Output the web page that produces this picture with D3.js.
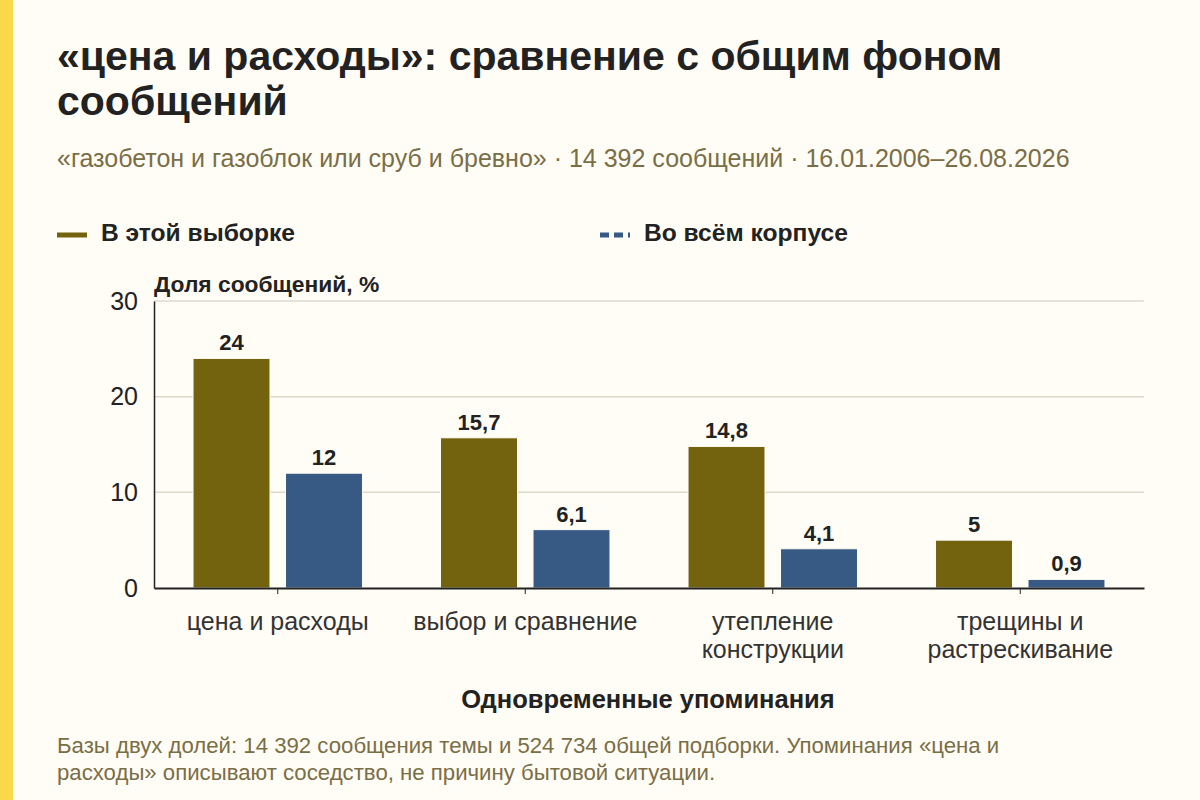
<!DOCTYPE html>
<meta charset="utf-8">
<script src="https://d3js.org/d3.v7.min.js"></script>
<style>
  body { margin: 0; background: #fffdf5; }
  text { font-family: "Liberation Sans", Arial, sans-serif; }
</style>
<div id="chart"></div>
<script>

// data
var categories = ["цена и расходы", "выбор и сравнение", "утепление конструкции", "трещины и растрескивание"];
var sampleShare = [24, 15.7, 14.8, 5];
var corpusShare = [12, 6.1, 4.1, 0.9];
var seriesNames = ["В этой выборке", "Во всём корпусе"];
var yTicks = [0, 10, 20, 30];

var colors = ["#73620e", "#365a84"];

var W = 1200, H = 800;
var margin = {top: 301, right: 56, bottom: 212, left: 154},
    width = W - margin.left - margin.right,
    height = H - margin.top - margin.bottom;

var svg = d3.select("#chart").append("svg")
    .attr("width", W)
    .attr("height", H);

svg.append("rect").attr("width", W).attr("height", H).attr("fill", "#fffdf5");
svg.append("rect").attr("width", 13).attr("height", H).attr("fill", "#f9d84a");

// title + subtitle
var title = svg.append("text")
    .attr("x", 57).attr("y", 70)
    .attr("font-size", 41).attr("font-weight", "bold").attr("fill", "#222");
title.append("tspan").attr("x", 57).text("«цена и расходы»: сравнение с общим фоном");
title.append("tspan").attr("x", 57).attr("dy", 45).text("сообщений");

svg.append("text")
    .attr("x", 57).attr("y", 167)
    .attr("font-size", 25).attr("fill", "#7a6e47")
    .text("«газобетон и газоблок или сруб и бревно» · 14 392 сообщений · 16.01.2006–26.08.2026");

// legend
var legendX = [57, 600];
seriesNames.forEach(function(name, i) {
  svg.append("line")
    .attr("x1", legendX[i]).attr("x2", legendX[i] + 30)
    .attr("y1", 235).attr("y2", 235)
    .attr("stroke", colors[i]).attr("stroke-width", 5)
    .attr("stroke-dasharray", i === 1 ? "9,5" : null);
  svg.append("text")
    .attr("x", legendX[i] + 44).attr("y", 241)
    .attr("font-size", 24.6).attr("font-weight", "bold").attr("fill", "#222")
    .text(name);
});

var g = svg.append("g")
    .attr("transform", "translate(" + margin.left + "," + margin.top + ")");

// scales
var x0 = d3.scaleBand().domain(categories).range([0, width]).padding(0);
var x1 = d3.scaleBand().domain([0, 1]).range([0, x0.bandwidth()])
    .paddingInner(0.168).paddingOuter(0.422);
var y = d3.scaleLinear().domain([0, 30]).range([height, 0]);

// grid
g.selectAll(".grid").data(yTicks.slice(1)).enter().append("line")
    .attr("x1", 0).attr("x2", width)
    .attr("y1", function(d) { return y(d); }).attr("y2", function(d) { return y(d); })
    .attr("stroke", "#dcd8cc").attr("stroke-width", 1.5);

// y axis
var yAxis = g.append("g").call(d3.axisLeft(y).tickValues(yTicks).tickSize(0).tickPadding(16));
yAxis.select(".domain").attr("stroke", "#222").attr("stroke-width", 1.5);
yAxis.selectAll("text").attr("font-size", 25).attr("fill", "#222")
    .style("font-family", "'Liberation Sans', Arial, sans-serif");

svg.append("text")
    .attr("x", margin.left).attr("y", 292)
    .attr("font-size", 22.8).attr("font-weight", "bold").attr("fill", "#222")
    .text("Доля сообщений, %");

// bars
var rows = categories.map(function(c, i) {
  return {cat: c, vals: [sampleShare[i], corpusShare[i]]};
});

var groups = g.selectAll(".grp").data(rows).enter().append("g")
    .attr("transform", function(d) { return "translate(" + x0(d.cat) + ",0)"; });

groups.selectAll("rect").data(function(d) { return d.vals; }).enter().append("rect")
    .attr("x", function(d, i) { return x1(i); })
    .attr("y", function(d) { return y(d); })
    .attr("width", x1.bandwidth())
    .attr("height", function(d) { return height - y(d); })
    .attr("fill", function(d, i) { return colors[i]; })
    .attr("stroke", "#fffdf5").attr("stroke-width", 1);

groups.selectAll(".lbl").data(function(d) { return d.vals; }).enter().append("text")
    .attr("x", function(d, i) { return x1(i) + x1.bandwidth() / 2; })
    .attr("y", function(d) { return y(d) - 8; })
    .attr("text-anchor", "middle")
    .attr("font-size", 22).attr("font-weight", "bold").attr("fill", "#222")
    .text(function(d) { return String(d).replace(".", ","); });

// x axis
var xAxis = g.append("g")
    .attr("transform", "translate(0," + height + ")")
    .call(d3.axisBottom(x0).tickSize(6).tickSizeOuter(0).tickPadding(18));
xAxis.select(".domain").attr("stroke", "#222").attr("stroke-width", 2);
xAxis.selectAll(".tick line").attr("stroke", "#222");
xAxis.selectAll("text").attr("font-size", 25).attr("fill", "#333")
    .style("font-family", "'Liberation Sans', Arial, sans-serif")
    .call(wrap, x0.bandwidth() - 10);

function wrap(sel, w) {
  sel.each(function() {
    var t = d3.select(this), words = t.text().split(/\s+/), line = [], lines = [];
    words.forEach(function(word) {
      line.push(word);
      t.text(line.join(" "));
      if (textLen(t) > w && line.length > 1) {
        line.pop();
        lines.push(line.join(" "));
        line = [word];
      }
    });
    lines.push(line.join(" "));
    t.text(null);
    var yy = +t.attr("y");
    lines.forEach(function(l, i) {
      t.append("tspan").attr("x", 0).attr("y", yy + i * 28).attr("dy", "0.71em").text(l);
    });
  });
}
function textLen(t) { return t.node().getComputedTextLength(); }

svg.append("text")
    .attr("x", margin.left + width / 2 - 1).attr("y", 708)
    .attr("text-anchor", "middle")
    .attr("font-size", 25.5).attr("font-weight", "bold").attr("fill", "#222")
    .text("Одновременные упоминания");

// footer
var foot = svg.append("text")
    .attr("x", 57).attr("y", 753)
    .attr("font-size", 22.2).attr("fill", "#7a6e47");
foot.append("tspan").attr("x", 57).text("Базы двух долей: 14 392 сообщения темы и 524 734 общей подборки. Упоминания «цена и");
foot.append("tspan").attr("x", 57).attr("dy", 27).text("расходы» описывают соседство, не причину бытовой ситуации.");

</script>
